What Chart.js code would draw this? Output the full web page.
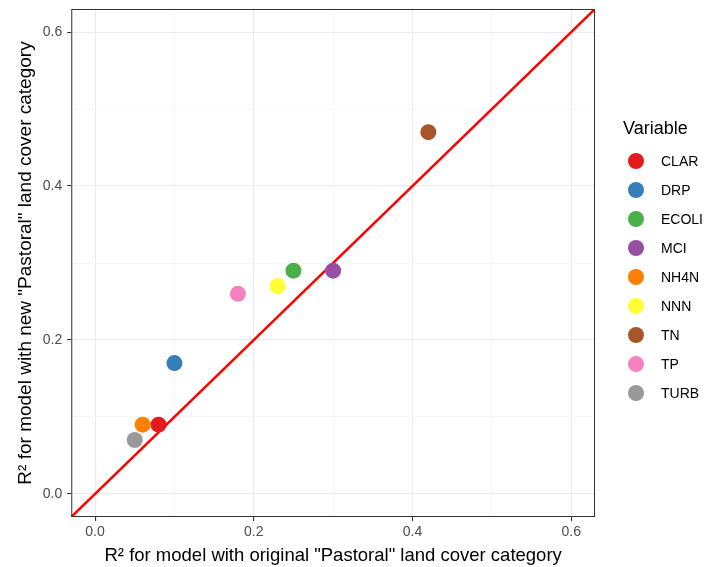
<!DOCTYPE html>
<html>
<head>
<meta charset="utf-8">
<script src="https://cdn.jsdelivr.net/npm/chart.js@4.4.1/dist/chart.umd.min.js"></script>
<style>
  html, body { margin: 0; padding: 0; background: #fff; }
  #wrap { width: 706px; height: 567px; position: relative; }
</style>
</head>
<body>
<div id="wrap"><canvas id="grafico"></canvas></div>
<script>
// dados
var variaveis = ['CLAR', 'DRP', 'ECOLI', 'MCI', 'NH4N', 'NNN', 'TN', 'TP', 'TURB']
var r2Original = [0.08, 0.10, 0.25, 0.30, 0.06, 0.23, 0.42, 0.18, 0.05]
var r2Novo = [0.09, 0.17, 0.29, 0.29, 0.09, 0.27, 0.47, 0.26, 0.07]
var cores = ['#E41A1C', '#377EB8', '#4DAF4A', '#984EA3', '#FF7F00', '#FFFF33', '#A65628', '#F781BF', '#999999']
var linha11 = [-0.1, 0.7]
var eixoMin = -0.03
var eixoMax = 0.63

var fonte = "'Liberation Sans', Arial, sans-serif"

var datasets = []
for (let i = 0; i < variaveis.length; i++) {
    datasets.push({
        type: 'scatter',
        label: variaveis[i],
        data: [{x: r2Original[i], y: r2Novo[i]}],
        backgroundColor: cores[i],
        borderColor: cores[i],
        borderWidth: 0,
        pointRadius: 8,
        pointHoverRadius: 8,
        order: 1
    })
}

// linha 1:1
datasets.push({
    type: 'line',
    label: 'linha',
    data: linha11.map(v => ({x: v, y: v})),
    borderColor: '#FF0000',
    borderWidth: 2.5,
    pointRadius: 0,
    fill: false,
    order: 10
})

function ehMaior(v) {
    return Math.round(v * 10) % 2 === 0
}

function gradeEixo() {
    return {
        color: ctx => ehMaior(ctx.tick.value) ? '#EBEBEB' : '#F4F4F4',
        lineWidth: ctx => ehMaior(ctx.tick.value) ? 1.1 : 0.7,
        tickColor: ctx => ehMaior(ctx.tick.value) ? '#333333' : 'rgba(0,0,0,0)',
        tickLength: 4,
        drawTicks: true
    }
}

// desenha a moldura do painel
var moldura = {
    id: 'moldura',
    afterDatasetsDraw(chart) {
        var a = chart.chartArea
        var c = chart.ctx
        c.save()
        c.strokeStyle = '#333333'
        c.lineWidth = 1
        c.strokeRect(a.left + 0.5, a.top + 0.5, a.right - a.left - 1, a.bottom - a.top - 1)
        c.restore()
    }
}

// legenda desenhada a mao, ao lado do painel
var legenda = {
    id: 'legenda',
    afterDraw(chart) {
        var a = chart.chartArea
        var c = chart.ctx
        var x0 = a.right + 28
        var meio = (a.top + a.bottom) / 2
        var yTitulo = meio - 134
        var yItem = meio - 102
        c.save()
        c.fillStyle = '#000000'
        c.textBaseline = 'middle'
        c.textAlign = 'left'
        c.font = '18px ' + fonte
        c.fillText('Variable', x0, yTitulo)
        c.font = '14px ' + fonte
        var ct = 0
        for (let ds of chart.data.datasets) {
            if (ds.type !== 'scatter') continue
            var y = yItem + ct * 29
            c.beginPath()
            c.fillStyle = ds.backgroundColor
            c.arc(x0 + 13, y, 8, 0, Math.PI * 2)
            c.fill()
            c.fillStyle = '#000000'
            c.fillText(ds.label, x0 + 38, y + 1)
            ct = ct + 1
        }
        c.restore()
    }
}

var ctx = document.getElementById('grafico')
new Chart(ctx, {
    data: { datasets: datasets },
    plugins: [moldura, legenda],
    options: {
        responsive: true,
        maintainAspectRatio: false,
        animation: false,
        layout: { padding: { top: 9, right: 111, left: 4, bottom: 0 } },
        scales: {
            x: {
                type: 'linear',
                min: eixoMin,
                max: eixoMax,
                border: { display: false },
                grid: gradeEixo(),
                ticks: {
                    stepSize: 0.1,
                    includeBounds: false,
                    autoSkip: false,
                    maxRotation: 0,
                    color: '#4D4D4D',
                    padding: 3,
                    font: { family: fonte, size: 14 },
                    callback: v => ehMaior(v) ? (Math.round(v * 10) / 10).toFixed(1) : ''
                },
                title: {
                    display: true,
                    text: 'R² for model with original "Pastoral" land cover category',
                    color: '#000000',
                    font: { family: fonte, size: 18.5 },
                    padding: { top: 1, bottom: 0 }
                }
            },
            y: {
                type: 'linear',
                min: eixoMin,
                max: eixoMax,
                border: { display: false },
                grid: gradeEixo(),
                ticks: {
                    stepSize: 0.1,
                    includeBounds: false,
                    autoSkip: false,
                    color: '#4D4D4D',
                    padding: 5,
                    font: { family: fonte, size: 14, lineHeight: 0.3 },
                    callback: v => ehMaior(v) ? (Math.round(v * 10) / 10).toFixed(1) : ''
                },
                title: {
                    display: true,
                    text: 'R² for model with new "Pastoral" land cover category',
                    color: '#000000',
                    font: { family: fonte, size: 19 },
                    padding: { top: 10, bottom: 1 }
                }
            }
        },
        plugins: {
            tooltip: { enabled: false },
            legend: { display: false }
        }
    }
})
</script>
</body>
</html>
